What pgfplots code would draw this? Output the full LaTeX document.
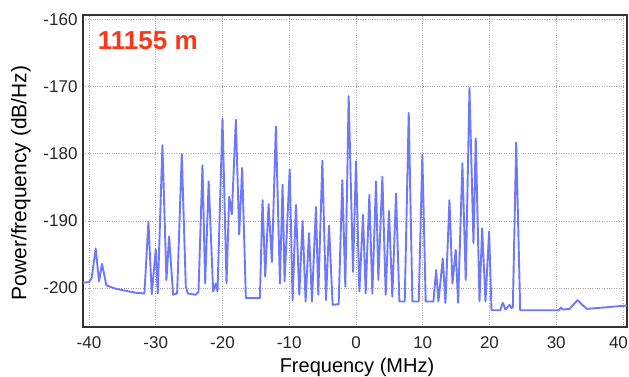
\documentclass[border=0pt]{standalone}
\usepackage{pgfplots}
\pgfplotsset{compat=1.18}
\usepackage{fontspec}
\setmainfont{Liberation Sans}
\definecolor{specblue}{RGB}{110,120,250}
\definecolor{titlered}{RGB}{250,55,25}
\definecolor{gridgray}{RGB}{170,170,170}
\pgfplotstableread{
f p
-40.9 -199.2
-40.0 -199.1
-39.6 -198.5
-39.0 -194.1
-38.5 -199.0
-38.05 -196.4
-37.4 -199.6
-36.0 -200.1
-34.5 -200.4
-33.0 -200.7
-31.7 -200.8
-31.1 -190.1
-30.6 -200.9
-30.0 -194.2
-29.7 -200.8
-29.0 -178.7
-28.4 -198.8
-28.0 -192.3
-27.4 -201.0
-26.8 -200.8
-26.1 -180.0
-25.5 -199.8
-25.2 -200.8
-24.0 -201.0
-23.6 -200.6
-23.0 -181.7
-22.6 -199.3
-22.07 -184.1
-21.4 -200.5
-21.0 -199.3
-20.75 -200.5
-20.0 -174.7
-19.4 -199.3
-19.0 -186.4
-18.6 -189.0
-18.0 -174.9
-17.5 -192.0
-17.05 -182.1
-16.5 -201.5
-14.4 -201.5
-14.0 -186.9
-13.6 -198.3
-13.1 -187.5
-12.6 -196.1
-12.0 -175.9
-11.4 -199.3
-11.0 -184.6
-10.7 -199.0
-9.93 -182.3
-9.5 -201.8
-9.0 -187.6
-8.5 -201.0
-8.0 -190.0
-7.55 -202.0
-7.04 -191.8
-6.6 -202.0
-6.0 -187.9
-5.65 -201.0
-5.04 -181.0
-4.5 -201.8
-4.04 -190.7
-3.5 -202.5
-2.6 -202.4
-2.05 -183.9
-1.6 -199.8
-1.1 -171.4
-0.45 -197.6
0.0 -181.1
0.5 -200.5
1.05 -189.1
1.45 -200.8
2.0 -186.1
2.45 -200.8
3.0 -184.1
3.35 -198.8
3.95 -183.4
4.45 -201.0
4.94 -188.5
5.44 -201.3
6.0 -185.9
6.5 -202.0
7.3 -202.0
7.9 -173.9
8.45 -202.0
9.4 -202.0
9.94 -180.1
10.44 -202.0
11.6 -202.0
12.0 -197.3
12.35 -202.0
13.0 -195.6
13.4 -202.2
14.0 -186.9
14.45 -199.3
14.94 -194.3
15.3 -202.2
15.94 -181.4
16.44 -198.8
17.0 -170.2
17.6 -193.3
17.94 -177.7
18.5 -202.0
18.9 -191.1
19.4 -202.0
19.94 -191.6
20.3 -203.3
21.6 -203.3
22.0 -202.2
22.4 -203.2
23.0 -202.5
23.3 -203.0
23.5 -202.8
24.0 -178.3
24.6 -203.3
30.4 -203.3
30.7 -202.9
31.0 -203.2
32.0 -203.1
33.2 -201.8
34.0 -202.6
34.6 -203.1
37.0 -202.9
40.6 -202.6
}\spectrum
\begin{document}
\begin{tikzpicture}
\useasboundingbox (-83bp,-50bp) rectangle (546bp,327bp);
\begin{axis}[
  scale only axis,
  width=544bp, height=312bp,
  xmin=-40.9, xmax=40.6,
  ymin=-205.8, ymax=-159.3,
  xtick={-40,-30,...,40},
  xticklabels={-40,-30,-20,-10,0,10,20,30,{\hspace*{-9bp}40}},
  ytick={-200,-190,...,-160},
  grid=major,
  major grid style={gridgray, dotted, line width=0.8bp},
  axis line style={black!80, line width=1.2bp},
  major tick length=0pt,
  /pgf/number format/assume math mode=true,
  ticklabel style={font=\fontsize{17bp}{20bp}\selectfont, text=black!85},
  xticklabel style={anchor=center, yshift=-16bp},
  yticklabel style={anchor=east, xshift=-2bp},
  xlabel={Frequency (MHz)},
  ylabel={Power/frequency (dB/Hz)},
  every axis x label/.style={at={(axis description cs:0.5,0)}, anchor=center, yshift=-40bp, xshift=2bp, font=\fontsize{20bp}{24bp}\selectfont},
  every axis y label/.style={at={(axis description cs:0,0.5)}, xshift=-62bp, yshift=-12bp, rotate=90, anchor=center, font=\fontsize{21bp}{25bp}\selectfont},
]
\addplot[specblue, line width=1.9bp, line join=round] table[x=f, y=p] {\spectrum};
\node[anchor=west, text=titlered, font=\bfseries\fontsize{26bp}{30bp}\selectfont, inner sep=0pt] at (axis cs:-38.7,-163.1) {11155 m};
\end{axis}
\end{tikzpicture}
\end{document}
